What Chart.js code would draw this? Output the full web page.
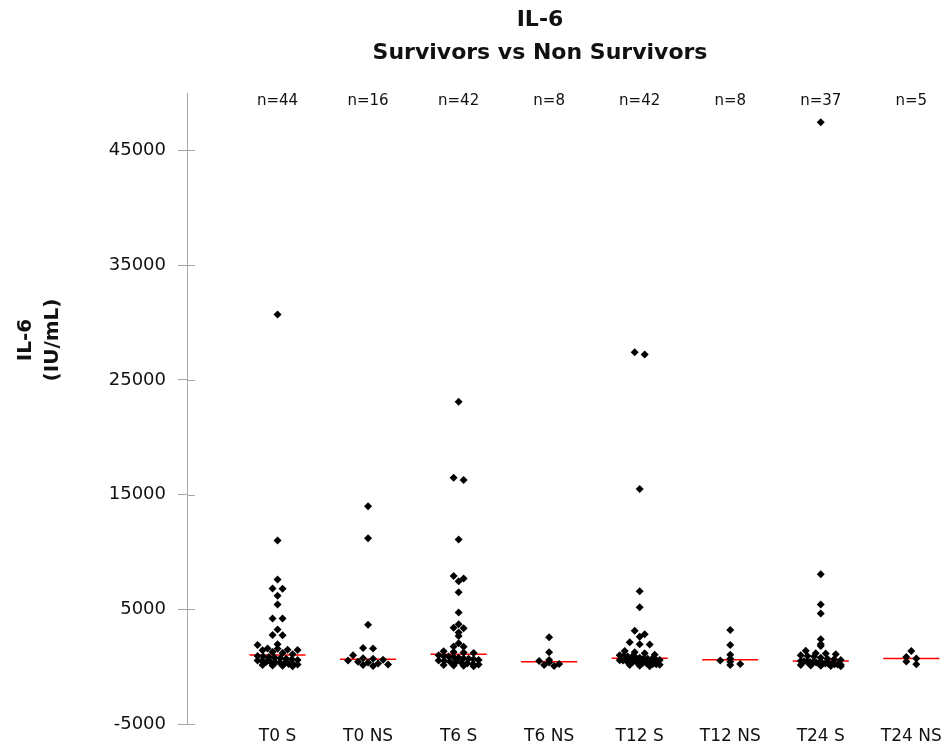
<!DOCTYPE html>
<html>
<head>
<meta charset="utf-8">
<script src="https://cdn.jsdelivr.net/npm/chart.js@4.4.1/dist/chart.umd.min.js"></script>
<style>
  html, body { margin: 0; padding: 0; background: #fff; }
</style>
</head>
<body>
<canvas id="il6Chart" width="947" height="747"></canvas>
<script>
// groups on the x axis
const categories = ['T0 S', 'T0 NS', 'T6 S', 'T6 NS', 'T12 S', 'T12 NS', 'T24 S', 'T24 NS'];
const counts = [44, 16, 42, 8, 42, 8, 37, 5];
const medians = [1025, 660, 1100, 440, 750, 625, 510, 720];

// IL-6 values (IU/mL) per group
const t0S = [30700, 11000, 7600, 6820, 6800, 6190, 5430, 4220, 4200, 3260, 2770, 2750,
  1960, 1900, 1600, 1580, 1480, 1470, 1450, 1300, 1200, 1100,
  950, 900, 850, 800, 750, 700, 650, 600, 550, 500, 450, 400, 380, 350, 300, 250, 220, 200, 150, 120, 100, 60];
const t0NS = [14000, 11200, 3670, 1650, 1600, 1000, 750, 700, 620, 550, 450, 380, 300, 200, 150, 80];
const t6S = [23100, 16480, 16280, 11100, 7920, 7690, 7460, 6500, 4740, 3700, 3410, 3350, 3000, 2680, 2050, 1760, 1740,
  1350, 1300, 1250, 1200,
  1000, 950, 900, 850, 800, 750, 700, 650, 600, 550, 500, 450, 400, 350, 300, 250, 200, 150, 120, 100, 50];
const t6NS = [2570, 1270, 600, 500, 380, 250, 150, 80];
const t12S = [27420, 27220, 15500, 6590, 5200, 3150, 2830, 2630, 2140, 1960, 1940, 1380, 1260, 1180,
  1050, 1000, 950, 900, 850, 820, 780,
  720, 700, 650, 620, 600, 580, 550, 500, 480, 450, 420, 400, 350, 320, 300, 250, 220, 180, 150, 100, 60];
const t12NS = [3200, 1900, 1050, 700, 550, 450, 250, 150];
const t24S = [47450, 8060, 5430, 4650, 2400, 1960, 1810, 1410, 1180, 1170,
  1100, 1000, 950, 900, 800, 700, 650, 600, 510,
  480, 450, 420, 400, 380, 350, 320, 300, 280, 250, 220, 200, 180, 150, 120, 100, 80, 50];
const t24NS = [1380, 850, 720, 460, 230];

const groups = [t0S, t0NS, t6S, t6NS, t12S, t12NS, t24S, t24NS];
const yTicks = [-5000, 5000, 15000, 25000, 35000, 45000];

const axisGrey = '#a6a6a6';
const textColor = '#111';

// one scatter dataset per group, plus a short red median line per group
const pointSets = groups.map((vals, i) => ({
  label: categories[i],
  data: vals.map(v => ({ x: i, y: v, cat: i })),
  pointStyle: 'rectRot',
  pointRadius: 4,
  pointHoverRadius: 4,
  backgroundColor: '#000',
  borderColor: '#000',
  borderWidth: 0,
  order: 1
}));
const medianSets = medians.map((m, i) => ({
  label: categories[i] + ' median',
  kind: 'median',
  data: [{ x: i - 0.31, y: m }, { x: i + 0.31, y: m }],
  showLine: true,
  borderColor: '#ff0000',
  borderWidth: 1.5,
  pointRadius: 0,
  order: 2
}));

// titles, n= labels and the inner half of the y tick marks
const annotations = {
  id: 'annotations',
  afterDraw(chart) {
    const { ctx, chartArea, scales } = chart;
    ctx.save();
    ctx.fillStyle = textColor;
    ctx.textAlign = 'center';
    ctx.textBaseline = 'alphabetic';
    ctx.font = 'bold 22px "DejaVu Sans"';
    ctx.fillText('IL-6', 540, 26);
    ctx.fillText('Survivors vs Non Survivors', 540, 59);

    ctx.font = '15px "DejaVu Sans"';
    ctx.textBaseline = 'middle';
    counts.forEach((n, i) => {
      ctx.fillText('n=' + n, scales.x.getPixelForValue(i), 101);
    });

    ctx.save();
    ctx.translate(0, 340);
    ctx.rotate(-Math.PI / 2);
    ctx.font = 'bold 20px "DejaVu Sans"';
    ctx.fillText('IL-6', 0, 26);
    ctx.fillText('(IU/mL)', 0, 53);
    ctx.restore();

    ctx.strokeStyle = axisGrey;
    ctx.lineWidth = 1;
    yTicks.forEach(t => {
      const y = Math.round(scales.y.getPixelForValue(t)) + 0.5;
      ctx.beginPath();
      ctx.moveTo(chartArea.left, y);
      ctx.lineTo(chartArea.left + 8, y);
      ctx.stroke();
    });
    ctx.restore();
  }
};

const chart = new Chart(document.getElementById('il6Chart'), {
  type: 'scatter',
  data: { datasets: [...medianSets, ...pointSets] },
  options: {
    responsive: false,
    animation: false,
    layout: { padding: { top: 93, right: 4, bottom: 0, left: 0 } },
    plugins: { legend: { display: false }, tooltip: { enabled: false } },
    scales: {
      x: {
        type: 'linear',
        min: -1,
        max: 7.35,
        afterBuildTicks: s => { s.ticks = categories.map((c, i) => ({ value: i })); },
        afterFit: s => { s.height = 21; },
        grid: { display: false },
        border: { display: false },
        ticks: {
          autoSkip: false,
          maxRotation: 0,
          padding: -6,
          color: textColor,
          font: { family: 'DejaVu Sans', size: 17 },
          callback: v => categories[v] ?? ''
        }
      },
      y: {
        min: -5000,
        max: 50000,
        afterBuildTicks: s => { s.ticks = yTicks.map(v => ({ value: v })); },
        afterFit: s => { s.width = 187; },
        grid: { drawOnChartArea: false, tickLength: 9, color: axisGrey },
        border: { color: axisGrey, width: 1 },
        ticks: {
          padding: 12,
          color: textColor,
          font: { family: 'DejaVu Sans', size: 18 },
          callback: v => String(v)
        }
      }
    }
  },
  plugins: [annotations]
});

// spread points that share a row sideways, like a column scatter
function spreadPoints(chart) {
  const xs = chart.scales.x, ys = chart.scales.y;
  const pxPerUnit = xs.getPixelForValue(1) - xs.getPixelForValue(0);
  chart.data.datasets.forEach(ds => {
    if (ds.kind === 'median') return;
    const rows = {};
    ds.data.forEach(p => {
      const r = Math.floor(ys.getPixelForValue(p.y) / 5);
      (rows[r] = rows[r] || []).push(p);
    });
    Object.values(rows).forEach(row => {
      const n = row.length;
      const gap = n <= 5 ? 10 : 40 / (n - 1);
      row.forEach((p, k) => { p.x = p.cat + (k - (n - 1) / 2) * gap / pxPerUnit; });
    });
  });
  chart.update('none');
}
spreadPoints(chart);
</script>
</body>
</html>
